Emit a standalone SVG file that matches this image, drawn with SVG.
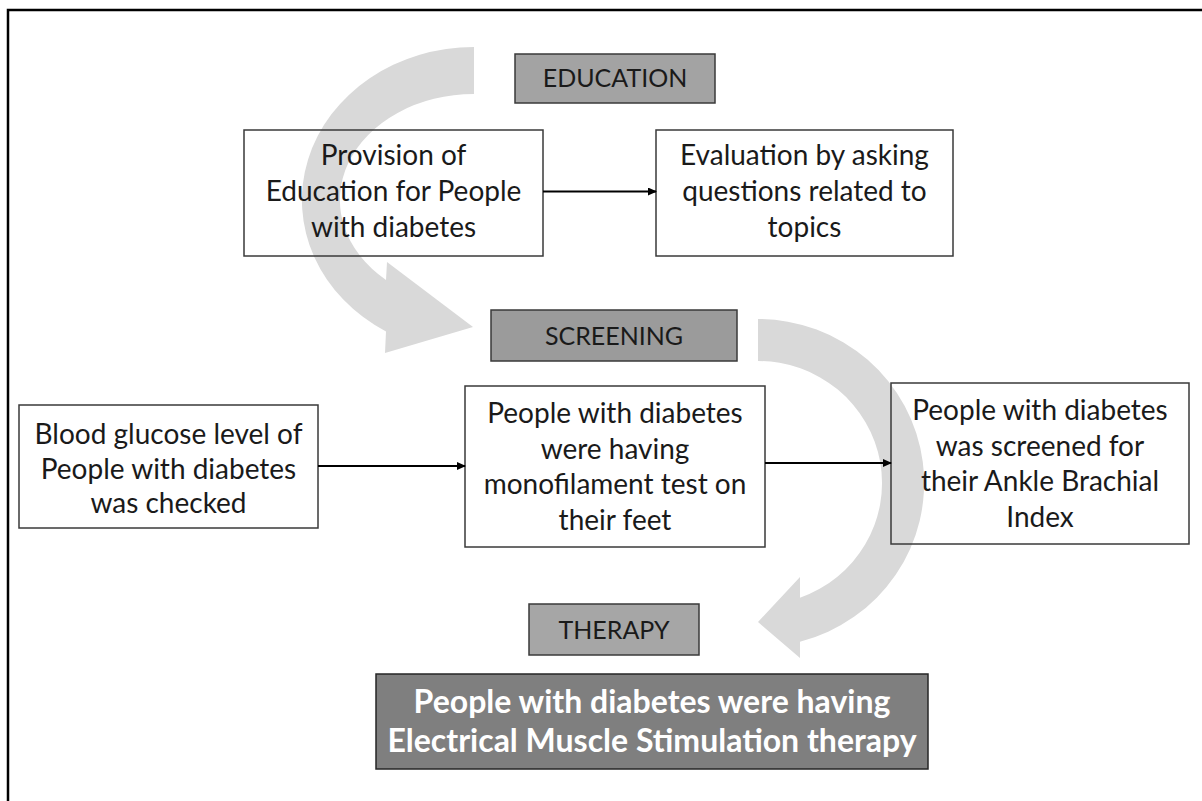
<svg xmlns="http://www.w3.org/2000/svg" width="1202" height="801" viewBox="0 0 1202 801">
  <style>
    .frame { fill: none; stroke: #000; stroke-width: 2.5; }
    .arc { fill: #d9d9d9; stroke: none; }
    .box { fill: none; stroke: #3a3a3a; stroke-width: 1.5; }
    .lbl { stroke: #3a3a3a; stroke-width: 1.5; }
    .t { font-family: Lato, "Liberation Sans", sans-serif; font-size: 28px; fill: #1a1a1a; text-anchor: middle; }
    .tl { font-family: Lato, "Liberation Sans", sans-serif; font-size: 25px; fill: #1a1a1a; text-anchor: middle; }
    .tb { font-family: Lato, "Liberation Sans", sans-serif; font-size: 32px; font-weight: bold; fill: #ffffff; text-anchor: middle; }
    .conn { stroke: #000; stroke-width: 2; fill: none; marker-end: url(#ah); }
  </style>
  <defs>
    <marker id="ah" markerWidth="9" markerHeight="8" refX="8" refY="4" orient="auto" markerUnits="userSpaceOnUse">
      <path d="M0,0 L9,4 L0,8 z" fill="#000"/>
    </marker>
  </defs>
  <rect width="1202" height="801" fill="#ffffff"/>
  <rect class="frame" x="8" y="10" width="1210" height="810"/>

  <g id="cycle-arrows">
    <path class="arc" d="M474,47 A172 153 0 0 0 386,331.5 L385,353 L473,327 L387,262 L386,280 A134 106 0 0 1 474,94 Z"/>
    <path class="arc" d="M758,319 A166 164 0 0 1 800,641.7 L800,658 L758,622 L800,577 L800,597.8 A124 122 0 0 0 758,361 Z"/>
  </g>

  <g id="education-label">
    <rect class="lbl" x="515" y="54" width="200" height="49" fill="#a3a3a3"/>
    <text class="tl" x="615" y="87">EDUCATION</text>
  </g>
  <g id="provision">
    <rect class="box" x="244" y="130" width="299" height="126"/>
    <text class="t" x="393.5" y="165">Provision of</text>
    <text class="t" x="393.5" y="201">Education for People</text>
    <text class="t" x="393.5" y="237">with diabetes</text>
  </g>
  <g id="evaluation">
    <rect class="box" x="656" y="130" width="297" height="126"/>
    <text class="t" x="804.5" y="165">Evaluation by asking</text>
    <text class="t" x="804.5" y="201">questions related to</text>
    <text class="t" x="804.5" y="237">topics</text>
  </g>
  <g id="screening-label">
    <rect class="lbl" x="491" y="310" width="246" height="51" fill="#9b9b9b"/>
    <text class="tl" x="614" y="345">SCREENING</text>
  </g>
  <g id="blood-glucose">
    <rect class="box" x="19" y="405" width="299" height="123"/>
    <text class="t" x="168.5" y="444">Blood glucose level of</text>
    <text class="t" x="168.5" y="479">People with diabetes</text>
    <text class="t" x="168.5" y="513">was checked</text>
  </g>
  <g id="monofilament">
    <rect class="box" x="465" y="386" width="300" height="161"/>
    <text class="t" x="615" y="423">People with diabetes</text>
    <text class="t" x="615" y="459">were having</text>
    <text class="t" x="615" y="494">monofilament test on</text>
    <text class="t" x="615" y="530">their feet</text>
  </g>
  <g id="ankle-brachial">
    <rect class="box" x="891" y="383" width="298" height="161"/>
    <text class="t" x="1040" y="420">People with diabetes</text>
    <text class="t" x="1040" y="455.5">was screened for</text>
    <text class="t" x="1040" y="491">their Ankle Brachial</text>
    <text class="t" x="1040" y="527">Index</text>
  </g>
  <g id="therapy-label">
    <rect class="lbl" x="529" y="604" width="170" height="51" fill="#a6a6a6"/>
    <text class="tl" x="614" y="639">THERAPY</text>
  </g>
  <g id="ems-therapy">
    <rect x="376" y="674" width="552" height="95" fill="#7f7f7f" stroke="#262626" stroke-width="1.5"/>
    <text class="tb" x="652" y="713">People with diabetes were having</text>
    <text class="tb" x="652" y="752">Electrical Muscle Stimulation therapy</text>
  </g>

  <g id="connectors">
    <line class="conn" x1="543" y1="191.5" x2="656" y2="191.5"/>
    <line class="conn" x1="318" y1="466" x2="465" y2="466"/>
    <line class="conn" x1="765" y1="463" x2="891" y2="463"/>
  </g>
</svg>
